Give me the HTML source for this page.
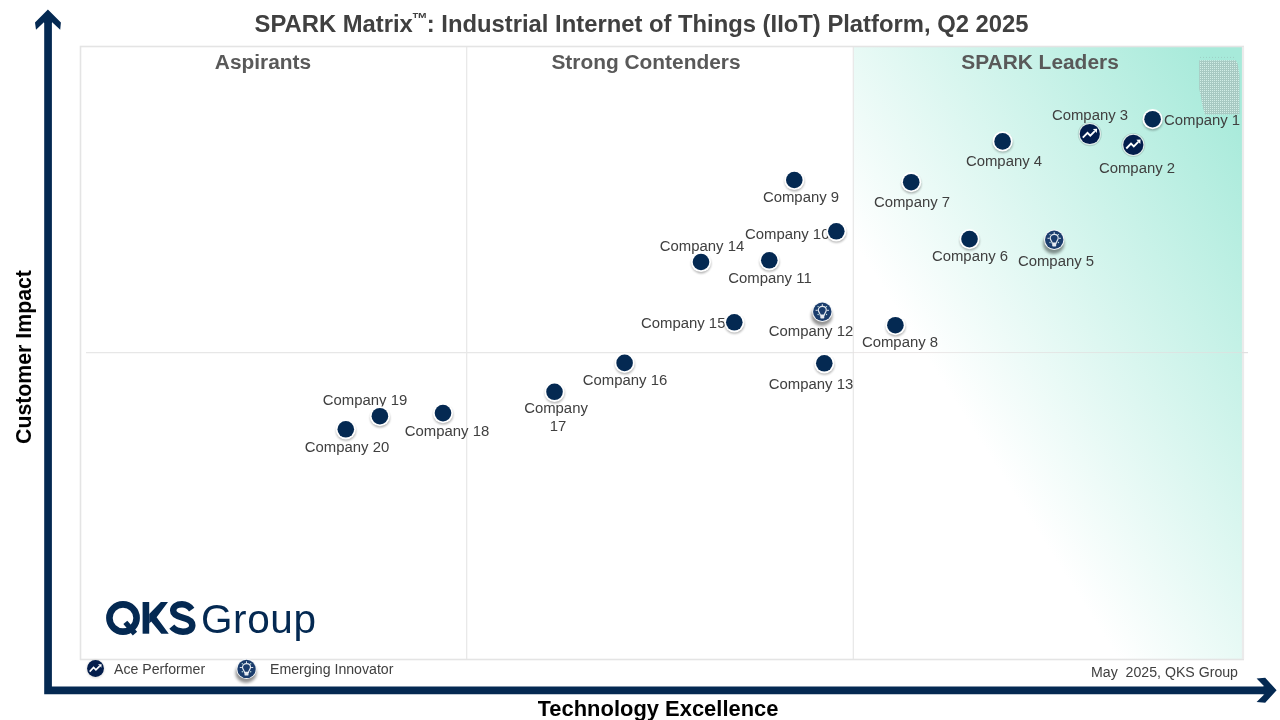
<!DOCTYPE html>
<html><head><meta charset="utf-8">
<style>
html,body{margin:0;padding:0;background:#fff;}
body{width:1280px;height:720px;position:relative;overflow:hidden;font-family:"Liberation Sans",sans-serif;}
.abs{position:absolute;}
div.abs{will-change:transform;}
#title{left:0;top:9.500px;width:1283px;text-align:center;font-weight:bold;font-size:23.800px;color:#404040;white-space:nowrap;line-height:28px;}
#title span{font-size:16px;display:inline-block;position:relative;top:-8.500px;line-height:1;margin:0 -1px 0 -1px;}
.hd{top:50px;font-weight:bold;font-size:20.900px;color:#595959;white-space:nowrap;line-height:24px;transform:translateX(-50%);}
.lbl{font-size:14.9px;color:#404040;white-space:nowrap;line-height:17px;transform:translateX(-50%);text-align:center;}
.lbl.l{transform:none;text-align:left;}
.dot{width:16.400px;height:16.400px;margin:-10.100px 0 0 -10.100px;border-radius:50%;background:#042952;border:1.900px solid #fff;box-shadow:0 1.500px 2px rgba(0,0,0,.33);}
.sm{font-size:14.150px;color:#404040;white-space:nowrap;line-height:17px;}
</style></head><body>
<div id="title" class="abs">SPARK Matrix<span>™</span>: Industrial Internet of Things (IIoT) Platform, Q2 2025</div>
<svg class="abs" style="left:0;top:0" width="1280" height="720" viewBox="0 0 1280 720">
  <defs>
    <linearGradient id="g" x1="0" y1="1" x2="1" y2="0">
      <stop offset="0.340" stop-color="#ffffff"/><stop offset="0.95" stop-color="#a7eada"/>
    </linearGradient>
    <filter id="blur" x="-50%" y="-50%" width="200%" height="200%"><feGaussianBlur stdDeviation="1.300"/></filter>
    <filter id="blur2" x="-50%" y="-50%" width="200%" height="200%"><feGaussianBlur stdDeviation="1.700"/></filter>
    <pattern id="dith" width="2" height="2" patternUnits="userSpaceOnUse"><rect width="2" height="2" fill="#a7c9c2"/><rect width="1" height="1" fill="#d2eee7"/></pattern>
  </defs>
  <rect x="854" y="47" width="388.300" height="612" fill="url(#g)"/>
  <rect x="80.500" y="46.500" width="1162.700" height="613" fill="none" stroke="#e4e4e4" stroke-width="1.600"/><line x1="1243" y1="47" x2="1243" y2="659" stroke="#ebebeb" stroke-width="2.200"/>
  <line x1="466.700" y1="47" x2="466.700" y2="659" stroke="#e7e7e7" stroke-width="1.200"/>
  <line x1="853.300" y1="47" x2="853.300" y2="659" stroke="#e7e7e7" stroke-width="1.200"/>
  <line x1="86" y1="352.600" x2="853" y2="352.600" stroke="#e7e7e7" stroke-width="1.200"/><line x1="853" y1="352.600" x2="1242" y2="352.600" stroke="#e3dede" stroke-width="1" opacity=".7"/><line x1="1242" y1="352.600" x2="1248" y2="352.600" stroke="#e0e0e0" stroke-width="1.200"/>
  <!-- dithered patch -->
  <path d="M1199.200 60.300 H1235.700 L1237.600 63.600 L1239.500 75.300 V114.600 H1205 L1202.600 106.400 L1200.700 95.700 L1199.200 88.900 Z" fill="url(#dith)"/>
  <line x1="1200" y1="57.400" x2="1234.500" y2="57.400" stroke="#9ccfc5" stroke-width="1" stroke-dasharray="1 2"/>
  <!-- axes -->
  <path d="M44.200 21 H51.900 V686.400 H1265 V694.200 H44.200 Z" fill="#042952"/>
  <path d="M47.900 9.400 L60.900 22.500 L60.200 29.800 L51.900 21.900 L51.900 23 L44.200 23 L44.200 21.900 L36 29.800 L35 22.500 Z" fill="#042952"/>
  <path d="M1276.600 690.300 L1265.200 677.800 L1256.600 678.600 L1264.400 686.400 L1263 686.400 L1263 694.200 L1264.400 694.200 L1256.600 702 L1265.200 702.800 Z" fill="#042952"/>
  <g fill="#042952">
    <circle cx="123" cy="618" r="13.600" fill="none" stroke="#042952" stroke-width="6.600"/>
    <path d="M123.400 623.900 L127.300 620.800 L137.100 631.700 L132.800 635.600 Z"/>
    <rect x="142.600" y="602" width="6.600" height="31.700"/>
    <path d="M149.200 614.100 L160.900 602 L168 602 L156.600 617.300 L168.750 633.700 L161.300 633.700 L151.200 621.600 L149.200 623.500 Z"/>
    <path d="M191.700 609.600 C189.200 606 185.800 604.300 182 604.300 C176.600 604.300 173.200 607 173.200 610.600 C173.200 614.500 176.500 616.200 182.500 617.600 C188.600 619 192.300 620.800 192.300 625.300 C192.300 629.300 188.600 631.700 183 631.700 C178.500 631.700 174.600 630 171.800 626.700" fill="none" stroke="#042952" stroke-width="6.500"/>
  </g>
  </svg>
<div class="abs hd" style="left:263px">Aspirants</div>
<div class="abs hd" style="left:645.500px">Strong Contenders</div>
<div class="abs hd" style="left:1039.500px">SPARK Leaders</div>
<div class="abs" style="left:24px;top:357.200px;width:0;height:0"><div class="abs" style="left:0;top:0;transform:translate(-50%,-50%) rotate(-90deg);font-weight:bold;font-size:21.3px;color:#000;white-space:nowrap;line-height:24px">Customer Impact</div></div>
<div class="abs" style="left:658.200px;top:696.500px;transform:translateX(-50%) scaleX(1.02);font-weight:bold;font-size:21.500px;color:#000;white-space:nowrap;line-height:24px">Technology Excellence</div>

<div class="abs lbl l" style="left:1163.7px;top:111.6px">Company 1</div><div class="abs lbl" style="left:1137.3px;top:159.8px">Company 2</div><div class="abs lbl" style="left:1089.5px;top:106.6px">Company 3</div><div class="abs lbl" style="left:1004.0px;top:152.8px">Company 4</div><div class="abs lbl" style="left:1056.2px;top:253.2px">Company 5</div><div class="abs lbl" style="left:970.2px;top:247.9px">Company 6</div><div class="abs lbl" style="left:912.0px;top:194.3px">Company 7</div><div class="abs lbl" style="left:900.1px;top:334.2px">Company 8</div><div class="abs lbl" style="left:801.3px;top:189.1px">Company 9</div><div class="abs lbl l" style="left:745.3px;top:226.4px">Company 10</div><div class="abs lbl" style="left:769.8px;top:269.8px">Company 11</div><div class="abs lbl" style="left:811.2px;top:322.8px">Company 12</div><div class="abs lbl" style="left:811.2px;top:375.8px">Company 13</div><div class="abs lbl" style="left:702.2px;top:238.1px">Company 14</div><div class="abs lbl l" style="left:641.3px;top:314.8px">Company 15</div><div class="abs lbl" style="left:624.5px;top:371.9px">Company 16</div><div class="abs lbl" style="left:556.3px;top:400.2px">Company</div><div class="abs lbl" style="left:557.7px;top:417.9px">17</div><div class="abs lbl" style="left:447.4px;top:422.5px">Company 18</div><div class="abs lbl" style="left:365.3px;top:391.7px">Company 19</div><div class="abs lbl" style="left:347.4px;top:438.9px">Company 20</div>
<svg class="abs" style="left:0;top:0" width="1280" height="720" viewBox="0 0 1280 720"><g transform="translate(1152.6,119.2)"><ellipse cx="0.2" cy="1.8" rx="10" ry="9.6" fill="#000" opacity=".30" filter="url(#blur)"/><circle r="10.1" fill="#fff"/><circle r="8.3" fill="#042952"/></g><g transform="translate(1133.3,144.8) scale(1.0)"><circle cx="0" cy="0.3" r="12" fill="#6f8f89" opacity=".30"/><circle cx="0" cy="0" r="11.1" fill="#e4eeeb"/><circle cx="0" cy="0" r="10.1" fill="#031d4c"/><path d="M-7 3.7 L-2.3 -1.2 L0.5 1.7 L5 -2.9" fill="none" stroke="#fff" stroke-width="1.9" stroke-linejoin="miter"/><path d="M3.1 -5.0 L7.3 -5.2 L7.0 -0.9 Z" fill="#fff"/></g><g transform="translate(1089.8,134.0) scale(1.0)"><circle cx="0" cy="0.3" r="12" fill="#6f8f89" opacity=".30"/><circle cx="0" cy="0" r="11.1" fill="#e4eeeb"/><circle cx="0" cy="0" r="10.1" fill="#031d4c"/><path d="M-7 3.7 L-2.3 -1.2 L0.5 1.7 L5 -2.9" fill="none" stroke="#fff" stroke-width="1.9" stroke-linejoin="miter"/><path d="M3.1 -5.0 L7.3 -5.2 L7.0 -0.9 Z" fill="#fff"/></g><g transform="translate(1002.6,141.4)"><ellipse cx="0.2" cy="1.8" rx="10" ry="9.6" fill="#000" opacity=".30" filter="url(#blur)"/><circle r="10.1" fill="#fff"/><circle r="8.3" fill="#042952"/></g><g transform="translate(1054.2,239.7)"><ellipse cx="-0.5" cy="4" rx="10.6" ry="10.2" fill="#000" opacity=".42" filter="url(#blur2)"/><circle cx="0" cy="0" r="10.2" fill="#f3f5f7"/><circle cx="0" cy="0" r="9.2" fill="#1b3d6d"/><path d="M-2 3.4 C-2 1.6 -4 0.6 -4 -1.6 C-4 -3.8 -2.2 -5.3 0 -5.3 C2.2 -5.3 4 -3.8 4 -1.6 C4 0.6 2 1.6 2 3.4 Z" fill="none" stroke="#e6ebf1" stroke-width="1.15"/><rect x="-2" y="3.4" width="4" height="3.3" rx=".9" fill="#e6ebf1"/><g stroke="#e6ebf1" stroke-width=".95" stroke-linecap="round"><line x1="0" y1="-6" x2="0" y2="-7.2"/><line x1="-5" y1="-1.4" x2="-6.3" y2="-1.4"/><line x1="5" y1="-1.4" x2="6.3" y2="-1.4"/></g><g fill="#bfe0dc"><circle cx="-4.2" cy="-5.1" r=".7"/><circle cx="4.2" cy="-5.1" r=".7"/><circle cx="-4.2" cy="2.8" r=".7"/><circle cx="4.2" cy="2.8" r=".7"/></g></g><g transform="translate(969.5,239.1)"><ellipse cx="0.2" cy="1.8" rx="10" ry="9.6" fill="#000" opacity=".30" filter="url(#blur)"/><circle r="10.1" fill="#fff"/><circle r="8.3" fill="#042952"/></g><g transform="translate(911.2,182.2)"><ellipse cx="0.2" cy="1.8" rx="10" ry="9.6" fill="#000" opacity=".30" filter="url(#blur)"/><circle r="10.1" fill="#fff"/><circle r="8.3" fill="#042952"/></g><g transform="translate(895.4,325.2)"><ellipse cx="0.2" cy="1.8" rx="10" ry="9.6" fill="#000" opacity=".30" filter="url(#blur)"/><circle r="10.1" fill="#fff"/><circle r="8.3" fill="#042952"/></g><g transform="translate(794.3,180.0)"><ellipse cx="0.2" cy="1.8" rx="10" ry="9.6" fill="#000" opacity=".30" filter="url(#blur)"/><circle r="10.1" fill="#fff"/><circle r="8.3" fill="#042952"/></g><g transform="translate(836.3,231.3)"><ellipse cx="0.2" cy="1.8" rx="10" ry="9.6" fill="#000" opacity=".30" filter="url(#blur)"/><circle r="10.1" fill="#fff"/><circle r="8.3" fill="#042952"/></g><g transform="translate(769.3,260.3)"><ellipse cx="0.2" cy="1.8" rx="10" ry="9.6" fill="#000" opacity=".30" filter="url(#blur)"/><circle r="10.1" fill="#fff"/><circle r="8.3" fill="#042952"/></g><g transform="translate(822.3,311.7)"><ellipse cx="-0.5" cy="4" rx="10.6" ry="10.2" fill="#000" opacity=".42" filter="url(#blur2)"/><circle cx="0" cy="0" r="10.2" fill="#f3f5f7"/><circle cx="0" cy="0" r="9.2" fill="#1b3d6d"/><path d="M-2 3.4 C-2 1.6 -4 0.6 -4 -1.6 C-4 -3.8 -2.2 -5.3 0 -5.3 C2.2 -5.3 4 -3.8 4 -1.6 C4 0.6 2 1.6 2 3.4 Z" fill="none" stroke="#e6ebf1" stroke-width="1.15"/><rect x="-2" y="3.4" width="4" height="3.3" rx=".9" fill="#e6ebf1"/><g stroke="#e6ebf1" stroke-width=".95" stroke-linecap="round"><line x1="0" y1="-6" x2="0" y2="-7.2"/><line x1="-5" y1="-1.4" x2="-6.3" y2="-1.4"/><line x1="5" y1="-1.4" x2="6.3" y2="-1.4"/></g><g fill="#bfe0dc"><circle cx="-4.2" cy="-5.1" r=".7"/><circle cx="4.2" cy="-5.1" r=".7"/><circle cx="-4.2" cy="2.8" r=".7"/><circle cx="4.2" cy="2.8" r=".7"/></g></g><g transform="translate(824.3,363.3)"><ellipse cx="0.2" cy="1.8" rx="10" ry="9.6" fill="#000" opacity=".30" filter="url(#blur)"/><circle r="10.1" fill="#fff"/><circle r="8.3" fill="#042952"/></g><g transform="translate(701.0,262.0)"><ellipse cx="0.2" cy="1.8" rx="10" ry="9.6" fill="#000" opacity=".30" filter="url(#blur)"/><circle r="10.1" fill="#fff"/><circle r="8.3" fill="#042952"/></g><g transform="translate(734.3,322.3)"><ellipse cx="0.2" cy="1.8" rx="10" ry="9.6" fill="#000" opacity=".30" filter="url(#blur)"/><circle r="10.1" fill="#fff"/><circle r="8.3" fill="#042952"/></g><g transform="translate(624.6,362.9)"><ellipse cx="0.2" cy="1.8" rx="10" ry="9.6" fill="#000" opacity=".30" filter="url(#blur)"/><circle r="10.1" fill="#fff"/><circle r="8.3" fill="#042952"/></g><g transform="translate(554.5,391.8)"><ellipse cx="0.2" cy="1.8" rx="10" ry="9.6" fill="#000" opacity=".30" filter="url(#blur)"/><circle r="10.1" fill="#fff"/><circle r="8.3" fill="#042952"/></g><g transform="translate(443.0,413.1)"><ellipse cx="0.2" cy="1.8" rx="10" ry="9.6" fill="#000" opacity=".30" filter="url(#blur)"/><circle r="10.1" fill="#fff"/><circle r="8.3" fill="#042952"/></g><g transform="translate(379.9,416.2)"><ellipse cx="0.2" cy="1.8" rx="10" ry="9.6" fill="#000" opacity=".30" filter="url(#blur)"/><circle r="10.1" fill="#fff"/><circle r="8.3" fill="#042952"/></g><g transform="translate(345.8,429.3)"><ellipse cx="0.2" cy="1.8" rx="10" ry="9.6" fill="#000" opacity=".30" filter="url(#blur)"/><circle r="10.1" fill="#fff"/><circle r="8.3" fill="#042952"/></g><g transform="translate(95.5,668.5) scale(0.835)"><circle cx="0" cy="0.6" r="10.9" fill="#000" opacity=".12" filter="url(#blur)"/><circle cx="0" cy="0" r="10.1" fill="#031d4c"/><path d="M-7 3.7 L-2.3 -1.2 L0.5 1.7 L5 -2.9" fill="none" stroke="#fff" stroke-width="1.9" stroke-linejoin="miter"/><path d="M3.1 -5.0 L7.3 -5.2 L7.0 -0.9 Z" fill="#fff"/></g><g transform="translate(246.5,668.9)"><ellipse cx="-0.5" cy="4" rx="10.6" ry="10.2" fill="#000" opacity=".42" filter="url(#blur2)"/><circle cx="0" cy="0" r="10.2" fill="#f3f5f7"/><circle cx="0" cy="0" r="9.2" fill="#1b3d6d"/><path d="M-2 3.4 C-2 1.6 -4 0.6 -4 -1.6 C-4 -3.8 -2.2 -5.3 0 -5.3 C2.2 -5.3 4 -3.8 4 -1.6 C4 0.6 2 1.6 2 3.4 Z" fill="none" stroke="#e6ebf1" stroke-width="1.15"/><rect x="-2" y="3.4" width="4" height="3.3" rx=".9" fill="#e6ebf1"/><g stroke="#e6ebf1" stroke-width=".95" stroke-linecap="round"><line x1="0" y1="-6" x2="0" y2="-7.2"/><line x1="-5" y1="-1.4" x2="-6.3" y2="-1.4"/><line x1="5" y1="-1.4" x2="6.3" y2="-1.4"/></g><g fill="#bfe0dc"><circle cx="-4.2" cy="-5.1" r=".7"/><circle cx="4.2" cy="-5.1" r=".7"/><circle cx="-4.2" cy="2.8" r=".7"/><circle cx="4.2" cy="2.8" r=".7"/></g></g></svg>
<div class="abs" style="left:201.300px;top:594.600px;color:#042952;white-space:nowrap;line-height:48px;font-size:40.500px;letter-spacing:0.600px">Group</div>
<div class="abs sm" style="left:113.500px;top:660.8px">Ace Performer</div>
<div class="abs sm" style="left:269.800px;top:660.8px">Emerging Innovator</div>
<div class="abs sm" style="left:1091px;top:663.6px;white-space:pre">May  2025, QKS Group</div>
</body></html>
